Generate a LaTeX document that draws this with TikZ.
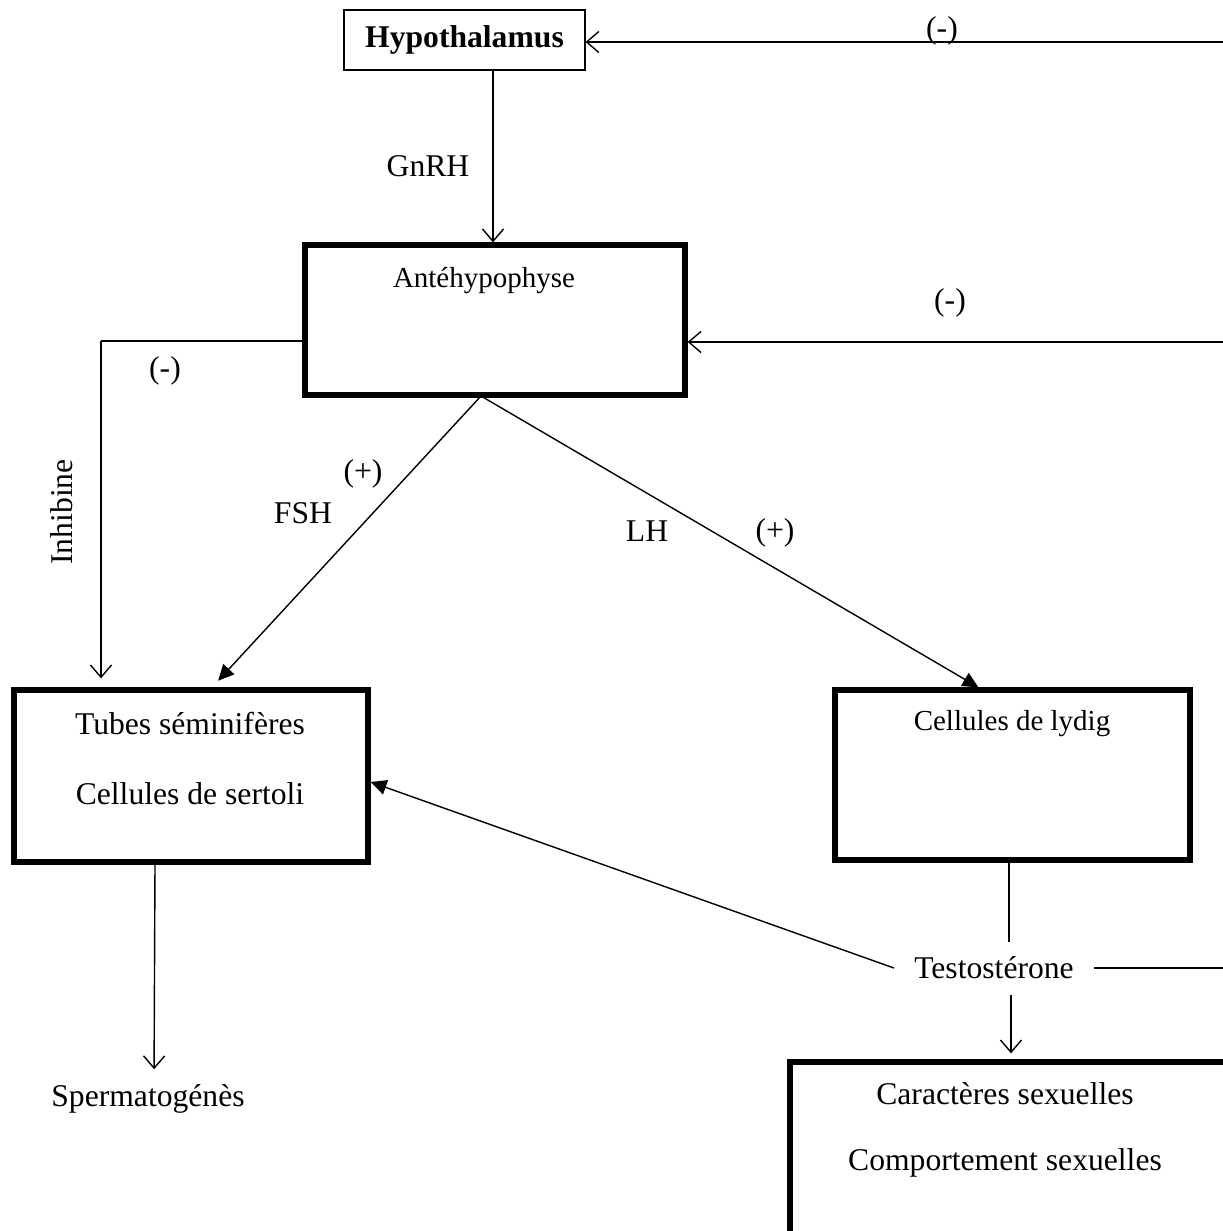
\documentclass[tikz,border=0pt]{standalone}
\usepackage{fontspec}
\setmainfont{Liberation Serif}
\usepackage{tikz}
\usetikzlibrary{positioning,calc,arrows.meta}

\begin{document}
\begin{tikzpicture}[
    txt/.style={font=\fontsize{18}{21}\selectfont, inner sep=0pt},
    smalltxt/.style={font=\fontsize{16.5}{19}\selectfont, inner sep=0pt},
    thinbox/.style={draw, line width=0.6pt, inner sep=0pt},
    thickbox/.style={draw, line width=3pt, inner sep=0pt},
    link/.style={line width=0.8pt},
    open/.style={link, -{Straight Barb[length=7pt, width=12pt]}},
    solid/.style={link, -{Triangle[length=9pt, width=8.5pt]}}
]
    % Frame
    \clip (0,0) rectangle (24.46,-24.62);

    % Boxes
    \node[thinbox, minimum width=4.82cm, minimum height=1.2cm, font=\fontsize{18}{21}\selectfont\bfseries]
        (hypo) at (9.29,-0.8) {Hypothalamus};
    \node[thickbox, minimum width=7.6cm, minimum height=3.0cm] (ante) at (9.9,-6.4) {};
    \node[smalltxt] (antetxt) at (9.68,-5.62) {Antéhypophyse};

    \node[thickbox, minimum width=7.08cm, minimum height=3.44cm] (tubes) at (3.82,-15.52) {};
    \node[txt] (tubes1) at (3.8,-14.48) {Tubes séminifères};
    \node[txt] (tubes2) at (3.8,-15.88) {Cellules de sertoli};

    \node[thickbox, minimum width=7.1cm, minimum height=3.4cm] (lydig) at (20.25,-15.5) {};
    \node[smalltxt] (lydigtxt) at (20.24,-14.48) {Cellules de lydig};

    \node[thickbox, minimum width=9.4cm, minimum height=3.96cm] (carac) at (20.5,-23.22) {};
    \node[txt] (carac1) at (20.1,-21.88) {Caractères sexuelles};
    \node[txt] (carac2) at (20.1,-23.26) {Comportement sexuelles};

    \node[txt, inner xsep=0.4cm, inner ysep=0.3cm] (testo) at (19.88,-19.36) {Testostérone};
    \node[txt] (sperm) at (2.96,-21.98) {Spermatogénès};

    % Free ends on the right edge
    \coordinate (fbtop) at (24.46,-0.84);
    \coordinate (fbmid) at (24.46,-6.84);
    \coordinate (fbbot) at (24.46,-19.32);
    \coordinate (inh) at (2.02,-6.82);
    \coordinate (src) at (9.62,-7.92);

    % Connectors
    \draw[open] (fbtop) -- (fbtop -| hypo.east);
    \draw[open] (hypo.south -| 9.86,0) -- (ante.north -| 9.86,0);
    \draw[open] (fbmid) -- (fbmid -| ante.east);
    \draw[link] (ante.west |- inh) -- (inh);
    \draw[open, shorten >=0.18cm] (inh) -- (inh |- tubes.north);
    \draw[solid, shorten >=0.18cm] (src) -- ([xshift=0.42cm]tubes.north);
    \draw[solid] (src) -- ([xshift=-0.68cm]lydig.north);
    \draw[link] (lydig.south -| 20.18,0) -- (testo.north -| 20.18,0);
    \draw[solid] (testo.west) -- ([yshift=-0.12cm]tubes.east);
    \draw[link] (testo.east) -- (testo.east -| fbbot);
    \draw[open, shorten >=0.12cm] (testo.south -| 20.22,0) -- (carac.north -| 20.22,0);
    \draw[open, shorten >=0.3cm] ([xshift=-0.72cm]tubes.south) -- (sperm.north -| 3.08,0);

    % Labels
    \node[txt] (m1) at (18.84,-0.62) {(-)};
    \node[txt] (gnrh) at (8.56,-3.32) {GnRH};
    \node[txt] (m2) at (19.0,-6.06) {(-)};
    \node[txt] (m3) at (3.3,-7.42) {(-)};
    \node[txt, rotate=90] (inhib) at (1.24,-10.24) {Inhibine};
    \node[txt] (fsh) at (6.06,-10.26) {FSH};
    \node[txt] (p1) at (7.26,-9.48) {(+)};
    \node[txt] (lh) at (12.94,-10.62) {LH};
    \node[txt] (p2) at (15.5,-10.66) {(+)};
\end{tikzpicture}
\end{document}
